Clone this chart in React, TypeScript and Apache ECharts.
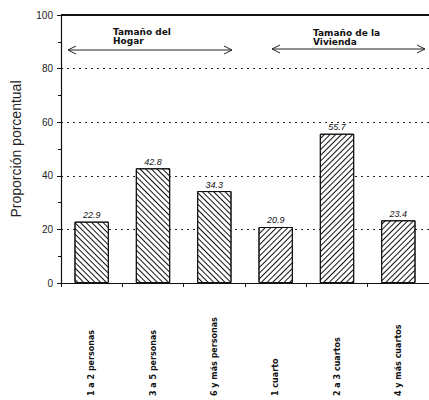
import React, { useEffect, useRef } from "react";
import * as echarts from "echarts";

const categories = [
  "1 a 2 personas",
  "3 a 5 personas",
  "6 y más personas",
  "1 cuarto",
  "2 a 3 cuartos",
  "4 y más cuartos",
];
const values = [22.9, 42.8, 34.3, 20.9, 55.7, 23.4];
const groups = ["hogar", "hogar", "hogar", "vivienda", "vivienda", "vivienda"];
const yTicks = [0, 20, 40, 60, 80, 100];
const groupTitles = ["Tamaño del\nHogar", "Tamaño de la\nVivienda"];
const yAxisTitle = "Proporción porcentual";

const hatch = (rot: number) => ({
  color: "#111",
  symbol: "rect",
  symbolSize: 1,
  dashArrayX: [1, 0],
  dashArrayY: [1, 2.6],
  rotation: rot,
});

function arrow(x1: number, x2: number, y: number) {
  const s = { stroke: "#222", lineWidth: 1 };
  return [
    { type: "line", shape: { x1, y1: y, x2, y2: y }, style: { ...s } },
    { type: "polyline", shape: { points: [[x1 + 8, y - 4], [x1, y], [x1 + 8, y + 4]] }, style: { ...s, fill: null } },
    { type: "polyline", shape: { points: [[x2 - 8, y - 4], [x2, y], [x2 - 8, y + 4]] }, style: { ...s, fill: null } },
  ];
}

export default function App() {
  const ref = useRef<HTMLDivElement>(null);
  useEffect(() => {
    if (!ref.current) return;
    const chart = echarts.init(ref.current, undefined, { renderer: "svg" });
    const titleStyle = {
      fontFamily: "DejaVu Sans",
      fontWeight: "bold",
      fontSize: 9,
      lineHeight: 9,
      fill: "#111",
    };
    chart.setOption({
      animation: false,
      backgroundColor: "#fff",
      aria: { enabled: true, decal: { show: true } },
      grid: { left: 61, top: 15, right: -6, bottom: 117, containLabel: false },
      xAxis: {
        type: "category",
        data: categories,
        axisLine: { lineStyle: { color: "#111", width: 1.2 } },
        axisTick: { show: true, length: 4, lineStyle: { color: "#111" } },
        axisLabel: {
          interval: 0,
          rotate: 90,
          align: "left",
          verticalAlign: "middle",
          margin: 113,
          fontFamily: "DejaVu Sans",
          fontWeight: "bold",
          fontSize: 8,
          color: "#111",
        },
      },
      yAxis: {
        type: "value",
        min: yTicks[0],
        max: yTicks[yTicks.length - 1],
        interval: 20,
        name: yAxisTitle,
        nameLocation: "middle",
        nameGap: 38,
        nameTextStyle: { fontFamily: "Liberation Sans", fontSize: 14, color: "#222" },
        axisLine: { show: true, lineStyle: { color: "#111", width: 1.2 } },
        axisTick: { show: true, length: 4, lineStyle: { color: "#111" } },
        minorTick: { show: true, splitNumber: 2, length: 3, lineStyle: { color: "#111" } },
        axisLabel: { fontFamily: "Liberation Sans", fontSize: 10, color: "#222", margin: 8 },
        splitLine: { show: true, lineStyle: { color: "#222", type: [2, 4], width: 1 } },
      },
      series: [
        {
          type: "bar",
          barWidth: "56%",
          data: values.map((v, i) => ({
            value: v,
            itemStyle: {
              color: "#fff",
              borderColor: "#111",
              borderWidth: 1,
              decal: hatch(groups[i] === "hogar" ? Math.PI / 4 : -Math.PI / 4),
            },
          })),
          label: {
            show: true,
            position: "top",
            distance: 2,
            fontFamily: "Liberation Sans",
            fontStyle: "italic",
            fontSize: 9,
            color: "#111",
            formatter: (p: any) => p.value.toFixed(1),
          },
          markLine: {
            silent: true,
            symbol: "none",
            label: { show: false },
            lineStyle: { color: "#111", type: "solid", width: 2 },
            data: [{ yAxis: yTicks[yTicks.length - 1] }],
          },
        },
      ],
      graphic: [
        { type: "text", left: 113, top: 27, style: { ...titleStyle, text: groupTitles[0] } },
        { type: "text", left: 313, top: 28, style: { ...titleStyle, text: groupTitles[1] } },
        ...arrow(68, 232, 50),
        ...arrow(272, 425, 49),
      ],
    });
    return () => chart.dispose();
  }, []);
  return (
    <div
      ref={ref}
      style={{ position: "fixed", left: 0, top: 0, width: 429, height: 400, background: "#fff" }}
    />
  );
}
